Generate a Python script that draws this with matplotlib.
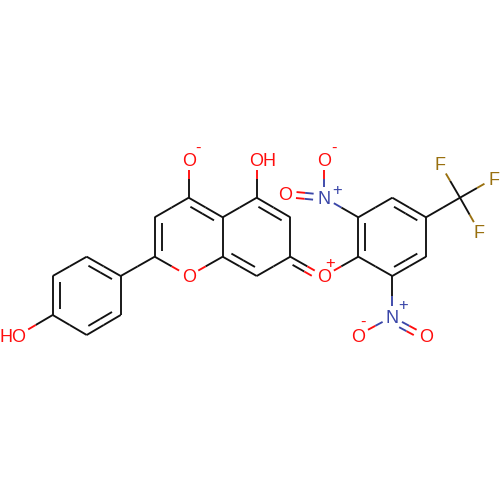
import matplotlib
matplotlib.use("Agg")
import matplotlib.pyplot as plt
import numpy as np

# atom positions, in pixels
atom_names = ["O4", "C4", "C3", "C2", "O1", "C8a", "C4a", "C5", "O5", "C6", "C7", "C8",
              "Op", "C1b", "C2b", "C3b", "C4b", "C5b", "C6b", "N1", "O1a", "O1b",
              "Cf", "F1", "F2", "F3", "N2", "O2a", "O2b",
              "P1", "P2", "P3", "P4", "P5", "P6", "O6"]
atom_x = [188.7, 188.7, 154.7, 154.7, 188.7, 222.7, 222.7, 256.7, 256.7, 290.3, 290.3, 256.7,
          324.3, 358.3, 358.3, 392.3, 426, 426, 392.3, 324.3, 324.3, 285.3,
          460, 440.3, 494, 479.3, 392.3, 358.3, 426.3,
          120.7, 86.7, 52.7, 52.7, 86.7, 120.7, 18.7]
atom_y = [159.3, 197.7, 217.3, 256.7, 276, 256.7, 217.3, 197.7, 159.3, 217.3, 256.7, 276,
          276, 256.7, 217.3, 197.7, 217.3, 256.7, 276, 197.7, 159.3, 194,
          197.7, 164, 178.3, 231.7, 316.7, 335, 335,
          276, 256.7, 276, 315, 335, 315, 335]

single_bonds = [("O4", "C4"), ("C3", "C4"), ("C2", "O1"), ("O1", "C8a"), ("C8a", "C4a"),
                ("C4a", "C5"), ("C5", "O5"), ("C6", "C7"), ("C7", "C8"), ("Op", "C1b"),
                ("C2b", "C3b"), ("C4b", "C5b"), ("C6b", "C1b"), ("C2b", "N1"), ("N1", "O1a"),
                ("C4b", "Cf"), ("Cf", "F1"), ("Cf", "F2"), ("Cf", "F3"), ("C6b", "N2"),
                ("N2", "O2a"), ("C2", "P1"), ("P6", "P1"), ("P2", "P3"), ("P4", "P5"),
                ("P4", "O6")]
# ring doubles: second line sits inside the ring, towards the given centre
ring_doubles = [("C2", "C3", "pyrone"), ("C4", "C4a", "pyrone"), ("C8a", "C8", "benz"),
                ("C5", "C6", "benz"), ("C1b", "C2b", "right"), ("C3b", "C4b", "right"),
                ("C5b", "C6b", "right"), ("P1", "P2", "phenol"), ("P3", "P4", "phenol"),
                ("P5", "P6", "phenol")]
free_doubles = [("N1", "O1b"), ("C7", "Op"), ("N2", "O2b")]

ring_centres = {"pyrone": ("C4", "O1"), "benz": ("C5", "C8"),
                "right": ("C3b", "C6b"), "phenol": ("P2", "P5")}

labels = {"O4": "O", "O1": "O", "Op": "O", "N1": "N", "O1a": "O", "O1b": "O",
          "F1": "F", "F2": "F", "F3": "F", "N2": "N", "O2a": "O", "O2b": "O"}
gap_only = ["O5", "O6"]
charge_text = ["-", "+", "-", "+", "+", "-"]
charge_x = [198.3, 337.3, 334.3, 330.3, 403.3, 363.3]
charge_y = [148.3, 190, 148.3, 263.3, 305.7, 322.3]
charge_col = ["O", "N", "O", "O", "N", "O"]

colours = {"O": "#ff0d0d", "N": "#3a46a8", "F": "#99700f", "C": "#111111"}
pos = {n: np.array([x, y]) for n, x, y in zip(atom_names, atom_x, atom_y)}


def colour_of(name):
    return colours[name[0]] if name[0] in "ONF" else colours["C"]


def is_label(name):
    return name in labels or name in gap_only


def bond_line(ax, a, b, shift=(0, 0), trim=0.0):
    p, q = pos[a], pos[b]
    u = (q - p) / np.linalg.norm(q - p)
    # the two halves keep their atom colour, split at the middle of the bond
    mid = (p + q) / 2 + shift
    start = p + u * (11 if is_label(a) else trim) + shift
    end = q - u * (11 if is_label(b) else trim) + shift
    ax.plot([start[0], mid[0]], [start[1], mid[1]], color=colour_of(a), lw=1.35,
            solid_capstyle="butt")
    ax.plot([mid[0], end[0]], [mid[1], end[1]], color=colour_of(b), lw=1.35,
            solid_capstyle="butt")


fig = plt.figure(figsize=(5, 5), dpi=100)
ax = fig.add_axes([0, 0, 1, 1])
ax.set_xlim(0, 500)
ax.set_ylim(500, 0)
ax.axis("off")

for a, b in single_bonds:
    bond_line(ax, a, b)

for a, b, ring in ring_doubles:
    bond_line(ax, a, b)
    r1, r2 = ring_centres[ring]
    centre = (pos[r1] + pos[r2]) / 2
    mid = (pos[a] + pos[b]) / 2
    bond_line(ax, a, b, shift=(centre - mid) / np.linalg.norm(centre - mid) * 7, trim=6)

for a, b in free_doubles:
    u = (pos[b] - pos[a]) / np.linalg.norm(pos[b] - pos[a])
    n = np.array([-u[1], u[0]])
    if a == "N1":
        bond_line(ax, a, b, shift=n * 3)
        bond_line(ax, a, b, shift=-n * 3)
    else:
        bond_line(ax, a, b)
        bond_line(ax, a, b, shift=n * 6, trim=6)

font = ["Liberation Sans", "DejaVu Sans"]
for name, text in labels.items():
    ax.text(pos[name][0], pos[name][1], text, color=colours[text], fontsize=13,
            ha="center", va="center_baseline", family=font)
ax.text(263, 159.3, "OH", color=colours["O"], fontsize=13, ha="center",
        va="center_baseline", family=font)
ax.text(12.8, 335, "HO", color=colours["O"], fontsize=13, ha="center",
        va="center_baseline", family=font)
for t, x, y, c in zip(charge_text, charge_x, charge_y, charge_col):
    ax.text(x, y, t, color=colours[c], fontsize=12, ha="center", va="center", family=font)

fig.savefig("out.png", dpi=100, facecolor="white")
